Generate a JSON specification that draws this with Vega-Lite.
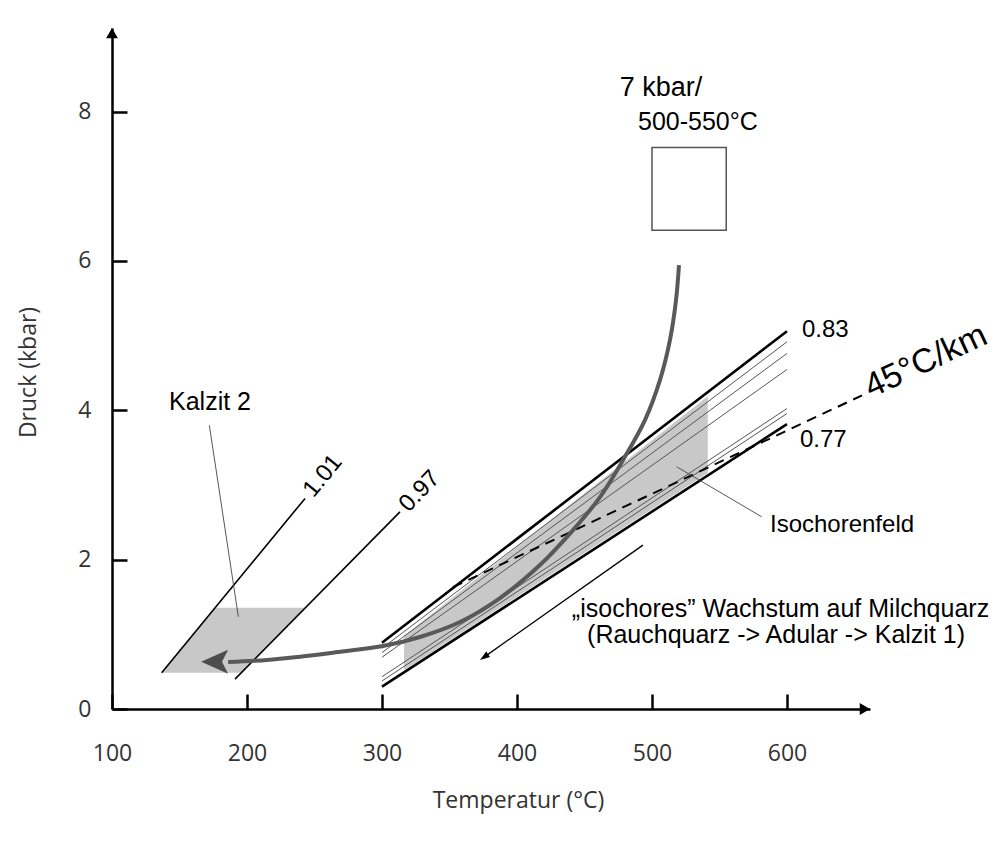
{
  "$schema": "https://vega.github.io/schema/vega-lite/v6.json",
  "width": 758,
  "height": 681,
  "autosize": {"type": "none"},
  "padding": {"left": 112, "top": 28, "right": 133, "bottom": 135},
  "background": "white",
  "config": {"view": {"stroke": null}, "font": "Liberation Sans"},
  "datasets": {
    "kalzit": [{"P": 0.486, "T": 136.8, "T2": 195.8}, {"P": 1.356, "T": 176.4, "T2": 243.2}],
    "field": [{"T": 316.3, "P": 0.52, "P2": 0.98}, {"T": 541.3, "P": 3.16, "P2": 4.19}],
    "iso": [
      {"id": "1.01", "grp": "mid", "T": 136.8, "P": 0.486}, {"id": "1.01", "grp": "mid", "T": 243, "P": 2.82},
      {"id": "0.97", "grp": "mid", "T": 191.1, "P": 0.40}, {"id": "0.97", "grp": "mid", "T": 313.3, "P": 2.64},
      {"id": "0.83", "grp": "thick", "T": 300, "P": 0.888}, {"id": "0.83", "grp": "thick", "T": 600, "P": 5.06},
      {"id": "0.77", "grp": "thick", "T": 300, "P": 0.30}, {"id": "0.77", "grp": "thick", "T": 600, "P": 3.815},
      {"id": "a", "grp": "thin", "T": 300, "P": 0.813}, {"id": "a", "grp": "thin", "T": 600, "P": 4.917},
      {"id": "b", "grp": "thin", "T": 300, "P": 0.755}, {"id": "b", "grp": "thin", "T": 600, "P": 4.762},
      {"id": "c", "grp": "thin", "T": 300, "P": 0.693}, {"id": "c", "grp": "thin", "T": 600, "P": 4.547},
      {"id": "d", "grp": "thin", "T": 300, "P": 0.432}, {"id": "d", "grp": "thin", "T": 600, "P": 4.024},
      {"id": "e", "grp": "thin", "T": 300, "P": 0.375}, {"id": "e", "grp": "thin", "T": 600, "P": 3.957}
    ],
    "geotherm": [{"T": 352.6, "P": 1.633}, {"T": 655.6, "P": 4.20}],
    "path": [
      {"i": 1, "T": 520.0, "P": 5.944}, {"i": 2, "T": 517.8, "P": 5.475}, {"i": 3, "T": 513.3, "P": 4.940},
      {"i": 4, "T": 505.9, "P": 4.404}, {"i": 5, "T": 494.8, "P": 3.869}, {"i": 6, "T": 478.5, "P": 3.333},
      {"i": 7, "T": 461.5, "P": 2.838}, {"i": 8, "T": 441.5, "P": 2.396}, {"i": 9, "T": 417.0, "P": 1.928},
      {"i": 10, "T": 387.4, "P": 1.486}, {"i": 11, "T": 357.8, "P": 1.165}, {"i": 12, "T": 328.1, "P": 0.964},
      {"i": 13, "T": 300.7, "P": 0.843}, {"i": 14, "T": 263.7, "P": 0.754}, {"i": 15, "T": 239.3, "P": 0.700},
      {"i": 16, "T": 214.8, "P": 0.656}, {"i": 17, "T": 186, "P": 0.631}
    ],
    "pathHead": [{"T": 176.0, "P": 0.633}],
    "growth": [{"T": 493.3, "P": 2.195}, {"T": 375.6, "P": 0.695}],
    "growthHead": [{"T": 375.6, "P": 0.695}],
    "leaders": [{"T": 172.1, "P": 3.80, "T2": 193.6, "P2": 1.236}, {"T": 518.3, "P": 3.244, "T2": 581.2, "P2": 2.575}],
    "box": [{"T": 500, "T2": 555, "P": 6.41, "P2": 7.52}],
    "labelsBig": [{"T": 506.7, "P": 8.206, "label": "7 kbar/"}],
    "labelsCenter": [
      {"T": 534, "P": 7.751, "label": "500-550°C"},
      {"T": 172.6, "P": 4.003, "label": "Kalzit 2"},
      {"T": 595.2, "P": 1.232, "label": "„isochores” Wachstum auf Milchquarz"},
      {"T": 591.9, "P": 0.884, "label": "(Rauchquarz -> Adular -> Kalzit 1)"}
    ],
    "labelsLeft": [
      {"T": 611.1, "P": 4.98, "label": "0.83"},
      {"T": 609.6, "P": 3.51, "label": "0.77"},
      {"T": 587.4, "P": 2.37, "label": "Isochorenfeld"}
    ],
    "lab101": [{"T": 245.2, "P": 2.878, "label": "1.01"}],
    "lab097": [{"T": 315.9, "P": 2.69, "label": "0.97"}],
    "labGeo": [{"T": 662.2, "P": 4.163, "label": "45°C/km"}],
    "arrowY": [{"T": 100, "P": 9.05}],
    "arrowX": [{"T": 657.7, "P": 0}]
  },
  "encoding": {
    "x": {
      "field": "T", "type": "quantitative",
      "scale": {"domain": [100, 661.5], "nice": false, "zero": false},
      "axis": {
        "values": [100, 200, 300, 400, 500, 600], "grid": false,
        "domainColor": "black", "domainWidth": 2.5, "tickColor": "black", "tickWidth": 2.5,
        "tickSize": -15, "labelPadding": 48, "labelFlush": false, "labelOverlap": false,
        "labelFont": "Open Sans", "labelFontSize": 23, "labelColor": "#333",
        "title": "Temperatur (°C)", "titleFont": "Open Sans", "titleFontSize": 23, "titleFontWeight": "normal",
        "titleColor": "#333", "titleX": 406, "titleY": 91, "titleBaseline": "middle", "titleAlign": "center"
      }
    },
    "y": {
      "field": "P", "type": "quantitative",
      "scale": {"domain": [0, 9.12], "nice": false, "zero": false},
      "axis": {
        "values": [0, 2, 4, 6, 8], "grid": false,
        "domainColor": "black", "domainWidth": 2.5, "tickColor": "black", "tickWidth": 2.5,
        "tickSize": -15, "labelPadding": 36, "labelFlush": false, "labelOverlap": false,
        "labelFont": "Open Sans", "labelFontSize": 23, "labelColor": "#333",
        "title": "Druck (kbar)", "titleFont": "Open Sans", "titleFontSize": 23, "titleFontWeight": "normal",
        "titleColor": "#333", "titleX": -84, "titleY": 344, "titleBaseline": "middle", "titleAlign": "center", "titleAngle": -90
      }
    }
  },
  "layer": [
    {"data": {"name": "kalzit"}, "mark": {"type": "area", "orient": "horizontal", "color": "#c8c8c8"},
     "encoding": {"x2": {"field": "T2"}}},
    {"data": {"name": "field"}, "mark": {"type": "area", "color": "#c8c8c8"},
     "encoding": {"y2": {"field": "P2"}}},
    {"data": {"name": "iso"}, "transform": [{"filter": "datum.grp === 'thin'"}],
     "mark": {"type": "line", "color": "#555", "strokeWidth": 1},
     "encoding": {"detail": {"field": "id"}}},
    {"data": {"name": "iso"}, "transform": [{"filter": "datum.grp === 'mid'"}],
     "mark": {"type": "line", "color": "black", "strokeWidth": 1.6},
     "encoding": {"detail": {"field": "id"}}},
    {"data": {"name": "iso"}, "transform": [{"filter": "datum.grp === 'thick'"}],
     "mark": {"type": "line", "color": "black", "strokeWidth": 2.6},
     "encoding": {"detail": {"field": "id"}}},
    {"data": {"name": "geotherm"}, "mark": {"type": "line", "color": "black", "strokeWidth": 2, "strokeDash": [10, 7]}, "encoding": {}},
    {"data": {"name": "path"}, "mark": {"type": "line", "color": "#595959", "strokeWidth": 4, "interpolate": "catmull-rom"},
     "encoding": {"order": {"field": "i"}}},
    {"data": {"name": "pathHead"}, "mark": {"type": "point", "shape": "M-1,0 L1,-0.89 L0.55,0 L1,0.89 Z", "size": 729, "filled": true, "color": "#4d4d4d", "opacity": 1}, "encoding": {}},
    {"data": {"name": "growth"}, "mark": {"type": "line", "color": "black", "strokeWidth": 1.3}, "encoding": {}},
    {"data": {"name": "growthHead"}, "mark": {"type": "point", "shape": "M-1,0 L1,-0.65 L1,0.65 Z", "size": 100, "filled": true, "color": "black", "opacity": 1, "angle": -35.2}, "encoding": {}},
    {"data": {"name": "leaders"}, "mark": {"type": "rule", "color": "#444", "strokeWidth": 0.9},
     "encoding": {"x2": {"field": "T2"}, "y2": {"field": "P2"}}},
    {"data": {"name": "box"}, "mark": {"type": "rect", "fill": "white", "stroke": "#555", "strokeWidth": 1.5},
     "encoding": {"x2": {"field": "T2"}, "y2": {"field": "P2"}}},
    {"data": {"name": "labelsBig"}, "mark": {"type": "text", "font": "Liberation Sans", "fontSize": 27, "color": "black", "align": "center", "baseline": "alphabetic"},
     "encoding": {"text": {"field": "label"}}},
    {"data": {"name": "labelsCenter"}, "mark": {"type": "text", "font": "Liberation Sans", "fontSize": 25, "color": "black", "align": "center", "baseline": "alphabetic"},
     "encoding": {"text": {"field": "label"}}},
    {"data": {"name": "labelsLeft"}, "mark": {"type": "text", "font": "Liberation Sans", "fontSize": 24, "color": "black", "align": "left", "baseline": "alphabetic"},
     "encoding": {"text": {"field": "label"}}},
    {"data": {"name": "lab101"}, "mark": {"type": "text", "font": "Liberation Sans", "fontSize": 24, "color": "black", "align": "left", "baseline": "middle", "angle": -50.6},
     "encoding": {"text": {"field": "label"}}},
    {"data": {"name": "lab097"}, "mark": {"type": "text", "font": "Liberation Sans", "fontSize": 24, "color": "black", "align": "left", "baseline": "middle", "angle": -46},
     "encoding": {"text": {"field": "label"}}},
    {"data": {"name": "labGeo"}, "mark": {"type": "text", "font": "Liberation Sans", "fontSize": 34, "color": "black", "align": "left", "baseline": "alphabetic", "angle": -25},
     "encoding": {"text": {"field": "label"}}},
    {"data": {"name": "arrowY"}, "mark": {"type": "point", "shape": "triangle-up", "size": 140, "filled": true, "color": "black", "opacity": 1}, "encoding": {}},
    {"data": {"name": "arrowX"}, "mark": {"type": "point", "shape": "triangle-right", "size": 140, "filled": true, "color": "black", "opacity": 1}, "encoding": {}}
  ]
}
